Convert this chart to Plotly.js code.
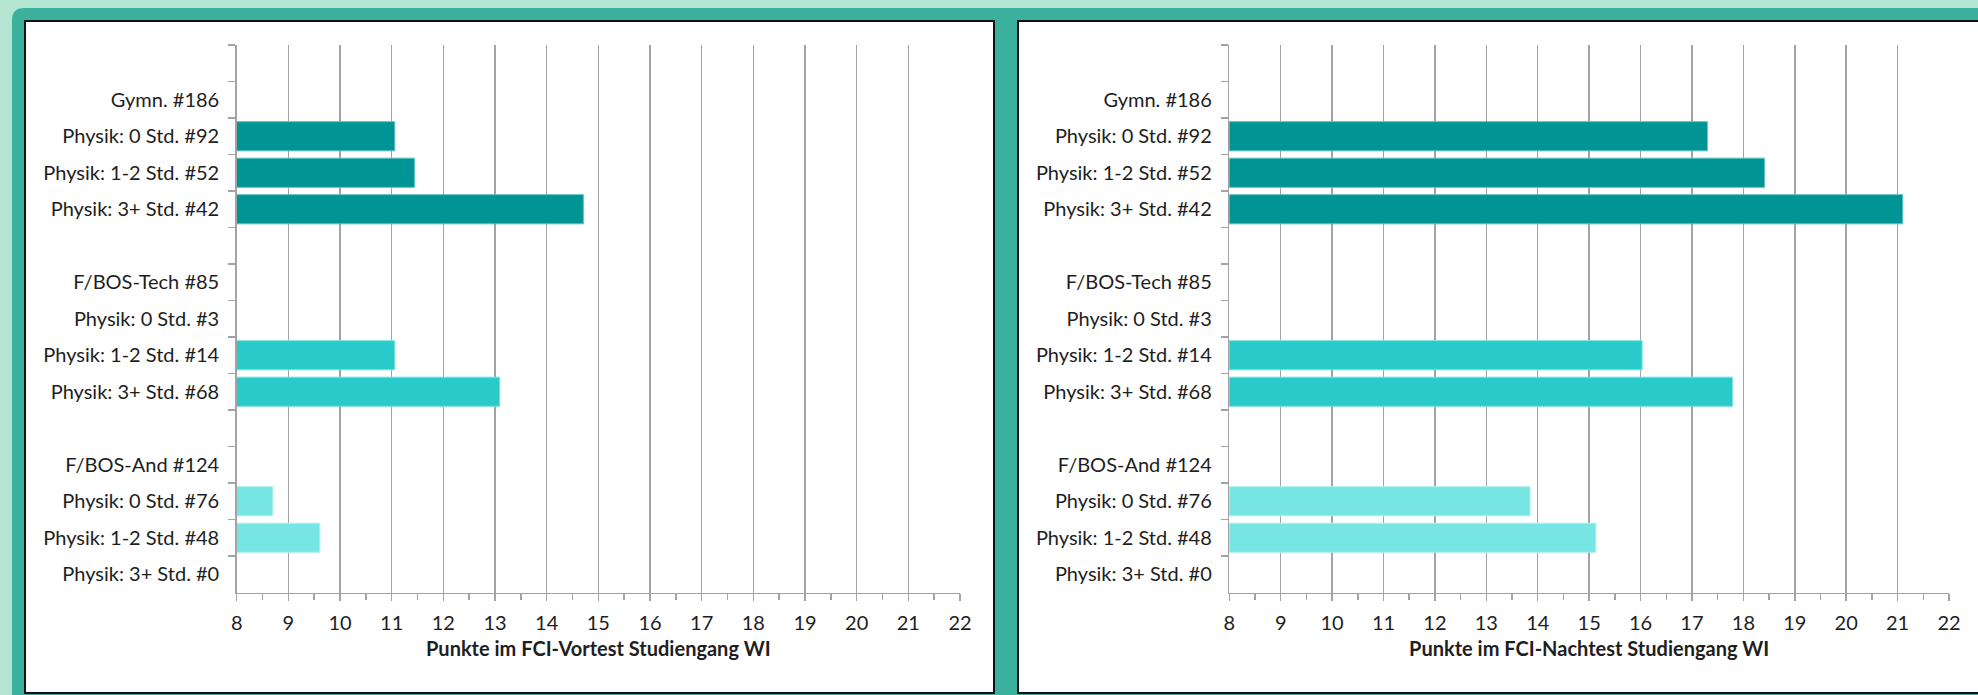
<!DOCTYPE html>
<html>
<head>
<meta charset="utf-8">
<script src="https://cdn.plot.ly/plotly-3.0.1.min.js"></script>
<style>
  html, body { margin: 0; padding: 0; background: #b4e5d3; }
  #chart { width: 1978px; height: 695px; }
</style>
</head>
<body>
<div id="chart"></div>
<script>
// ---------- data ----------
const categories = [
  ' ',
  'Gymn. #186',
  'Physik: 0 Std. #92',
  'Physik: 1-2 Std. #52',
  'Physik: 3+ Std. #42',
  '  ',
  'F/BOS-Tech #85',
  'Physik: 0 Std. #3',
  'Physik: 1-2 Std. #14',
  'Physik: 3+ Std. #68',
  '   ',
  'F/BOS-And #124',
  'Physik: 0 Std. #76',
  'Physik: 1-2 Std. #48',
  'Physik: 3+ Std. #0'
];
const rowGroup = [0, 0, 0, 0, 0, 1, 1, 1, 1, 1, 2, 2, 2, 2, 2];
const groupNames = ['Gymn.', 'F/BOS-Tech', 'F/BOS-And'];
const vortest  = [null, null, 11.06, 11.44, 14.71, null, null, null, 11.06, 13.09, null, null, 8.70, 9.61, null];
const nachtest = [null, null, 17.30, 18.41, 21.10, null, null, null, 16.03, 17.79, null, null, 13.85, 15.13, null];
const xTitleVor  = 'Punkte im FCI-Vortest Studiengang WI';
const xTitleNach = 'Punkte im FCI-Nachtest Studiengang WI';

// ---------- styles ----------
const groupColors = ['#009495', '#29caca', '#77e5e1'];
const groupLines  = ['#5cc2c2', '#7fe0e0', '#b0f0ee'];
const W = 1978, H = 695;
const FONT = 'Lato, "Liberation Sans", Arial, sans-serif';
const TXT = '#1e1e1e';
const GRID = '#a3a3a3';

function px(x) { return x / W; }
function py(y) { return 1 - y / H; }

const traces = [];
[[vortest, 'x', 'y'], [nachtest, 'x2', 'y2']].forEach(([vals, xa, ya]) => {
  groupNames.forEach((g, gi) => {
    traces.push({
      type: 'bar',
      orientation: 'h',
      name: g,
      y: categories,
      x: vals.map((v, i) => rowGroup[i] === gi ? v : null),
      xaxis: xa, yaxis: ya,
      width: 0.8,
      marker: { color: groupColors[gi], line: { color: groupLines[gi], width: 1 } },
      hoverinfo: 'x+y',
      showlegend: false
    });
  });
});

function xAxis(domain, anchor, title) {
  return {
    domain: domain, anchor: anchor,
    range: [8, 22], dtick: 1, tick0: 8,
    showgrid: true, gridcolor: GRID, gridwidth: 1.5,
    showline: true, linecolor: GRID, linewidth: 1.5,
    ticks: 'outside', ticklen: 7, tickcolor: GRID, tickwidth: 1.5,
    minor: { dtick: 0.5, ticks: 'outside', ticklen: 6, tickcolor: GRID, tickwidth: 1.5, showgrid: false },
    zeroline: false,
    tickfont: { family: FONT, size: 20, color: TXT },
    ticklabelstandoff: 5,
    title: { text: title, font: { family: FONT, size: 20, color: TXT, weight: 'bold' }, standoff: 9 },
    fixedrange: true
  };
}
function yAxis(domain, anchor) {
  return {
    domain: domain, anchor: anchor,
    type: 'category', categoryorder: 'array', categoryarray: categories,
    range: [categories.length - 0.5, -0.5],
    tickson: 'boundaries',
    ticks: 'outside', ticklen: 7, tickcolor: GRID, tickwidth: 1.5,
    showline: true, linecolor: GRID, linewidth: 1.5,
    showgrid: false, zeroline: false,
    tickfont: { family: FONT, size: 20, color: TXT },
    ticklabelstandoff: 12,
    fixedrange: true
  };
}

const yDom = [py(592.5), py(45)];
const teal = '#3bb09d';
const r = 12;
const shapes = [
  // teal frame with rounded top-left corner
  { type: 'path', xref: 'paper', yref: 'paper', layer: 'below',
    path: `M ${px(12)} ${py(H + 5)} L ${px(12)} ${py(8 + r)} Q ${px(12)} ${py(8)} ${px(12 + r)} ${py(8)} L ${px(W + 5)} ${py(8)} L ${px(W + 5)} ${py(H + 5)} Z`,
    fillcolor: teal, line: { width: 0 } },
  // left white panel
  { type: 'rect', xref: 'paper', yref: 'paper', layer: 'below',
    x0: px(25), x1: px(994), y0: py(693), y1: py(21),
    fillcolor: '#ffffff', line: { color: '#111111', width: 2 } },
  // right white panel
  { type: 'rect', xref: 'paper', yref: 'paper', layer: 'below',
    x0: px(1018), x1: px(W + 10), y0: py(693), y1: py(21),
    fillcolor: '#ffffff', line: { color: '#111111', width: 2 } }
];

const layout = {
  width: W, height: H,
  margin: { l: 0, r: 0, t: 0, b: 0 },
  paper_bgcolor: '#b4e5d3',
  plot_bgcolor: 'rgba(0,0,0,0)',
  barmode: 'overlay',
  showlegend: false,
  shapes: shapes,
  xaxis:  xAxis([px(236.7), px(960)], 'y', xTitleVor),
  yaxis:  yAxis(yDom, 'x'),
  xaxis2: xAxis([px(1229.3), px(1949)], 'y2', xTitleNach),
  yaxis2: yAxis(yDom, 'x2'),
  font: { family: FONT, color: TXT }
};

Plotly.newPlot('chart', traces, layout, { displayModeBar: false, staticPlot: true });
</script>
</body>
</html>
